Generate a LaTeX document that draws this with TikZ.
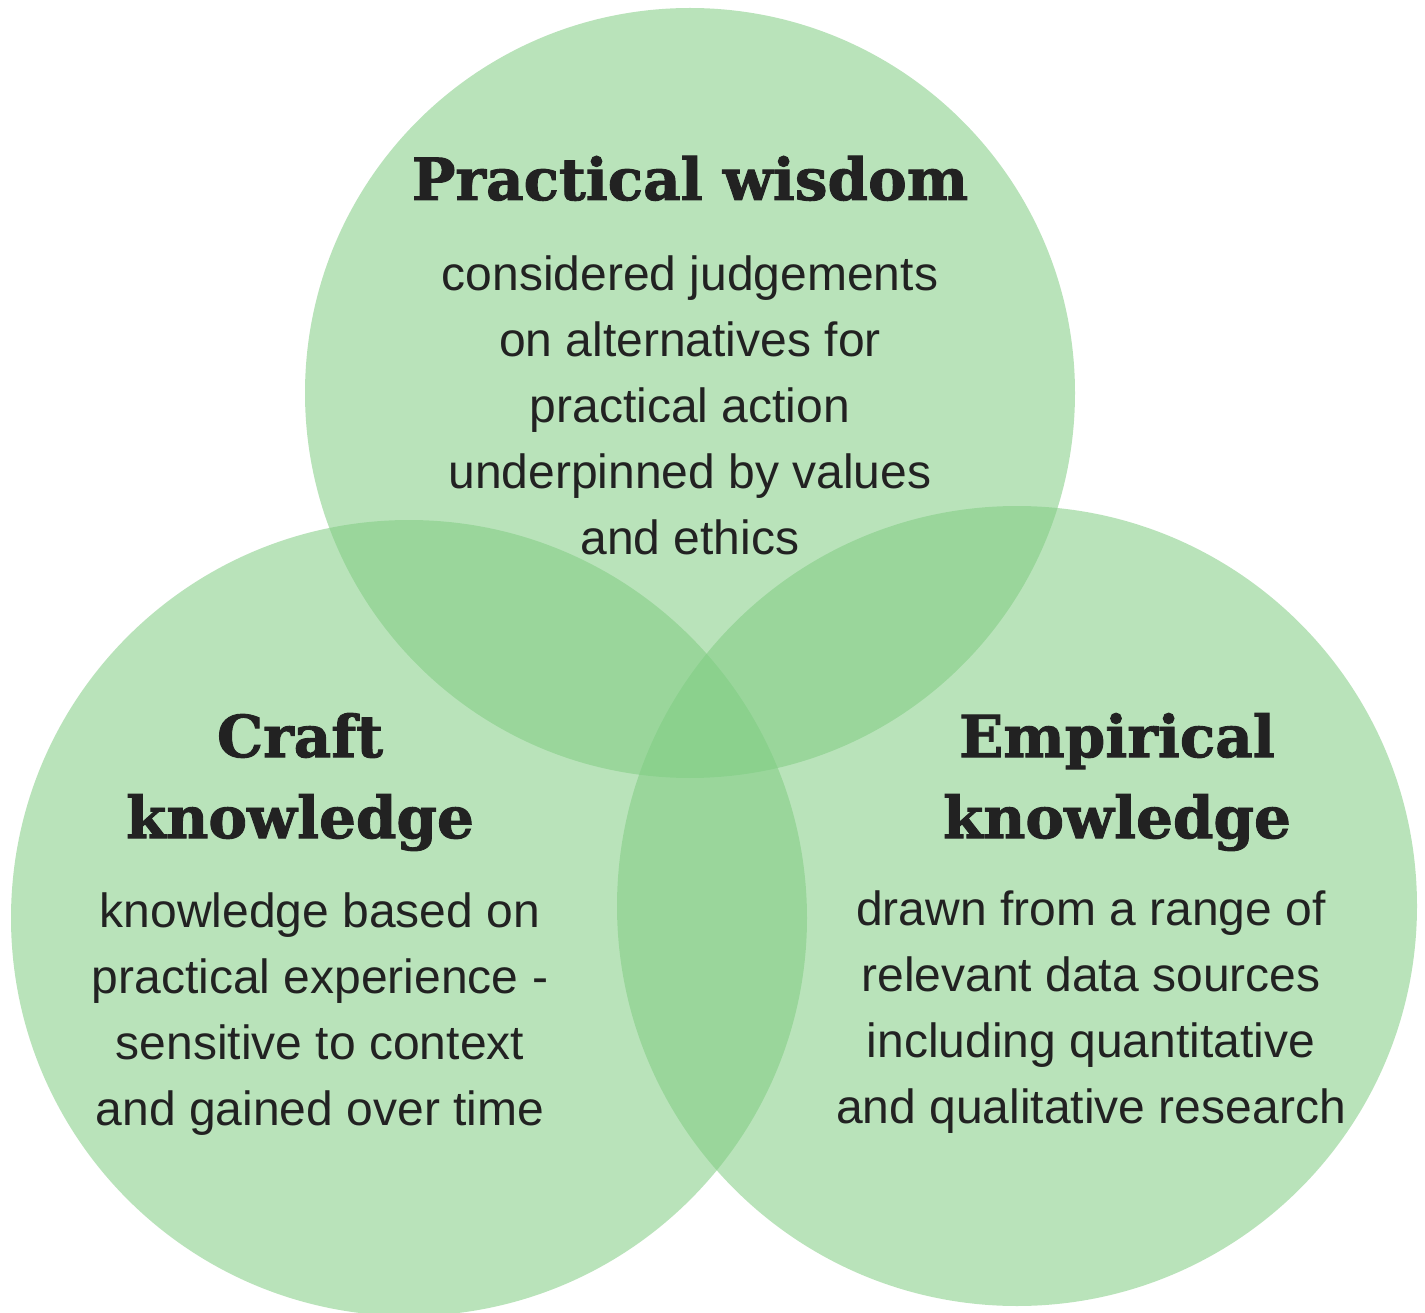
\documentclass[tikz,border=0pt]{standalone}
\usepackage{fontspec}
\setmainfont{Liberation Sans}
\newfontfamily\slabfont{DejaVu Serif}[BoldFeatures={FakeBold=1.6}]
\usepackage{xcolor}
\definecolor{leaf}{RGB}{128,204,130}
\definecolor{ink}{HTML}{222222}

\begin{document}
\begin{tikzpicture}[x=1pt,y=-1pt,
            circ/.style={fill=leaf,fill opacity=0.55},
            head/.style={text=ink,align=center,inner sep=0pt,font=\slabfont\bfseries\fontsize{58}{81}\selectfont},
            body/.style={text=ink,align=center,inner sep=0pt,font=\fontsize{48}{66}\selectfont}]
            \useasboundingbox (0,0) rectangle (1425,1313);

            % the three circles
            \fill[circ] (690,393) circle (385pt);
            \fill[circ] (409,918) circle (398pt);
            \fill[circ] (1017,906) circle (400pt);

            \node (wisdom) at (690,200) [head,anchor=base] {Practical wisdom};
            \node (wisdomtext) at (690,405) [body] {considered judgements\\on alternatives for\\practical action\\underpinned by values\\and ethics};

            \node (craft) at (300,782) [head] {Craft\\knowledge};
            \node (crafttext) at (320,1014) [body] {knowledge based on\\practical experience -\\sensitive to context\\and gained over time};

            \node (empirical) at (1117,782) [head] {Empirical\\knowledge};
            \node (empiricaltext) at (1091,1012) [body] {drawn from a range of\\relevant data sources\\including quantitative\\and qualitative research};

        \end{tikzpicture}
\end{document}
